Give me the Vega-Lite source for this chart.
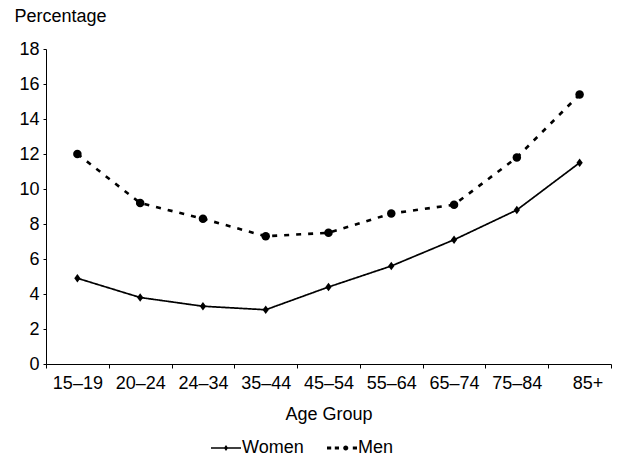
{
  "$schema": "https://vega.github.io/schema/vega-lite/v6.json",
  "autosize": {"type": "none"},
  "padding": {"left": 46, "top": 49, "right": 6, "bottom": 97},
  "width": 565,
  "height": 315,
  "background": "white",
  "config": {
    "font": "Liberation Sans",
    "view": {"stroke": null},
    "axis": {"labelFont": "Liberation Sans", "titleFont": "Liberation Sans", "labelColor": "black", "titleColor": "black", "domainColor": "black", "tickColor": "black", "grid": false}
  },
  "data": {"values": [
    {"age": "15–19", "sex": "Women", "pct": 4.9},
    {"age": "20–24", "sex": "Women", "pct": 3.8},
    {"age": "24–34", "sex": "Women", "pct": 3.3},
    {"age": "35–44", "sex": "Women", "pct": 3.1},
    {"age": "45–54", "sex": "Women", "pct": 4.4},
    {"age": "55–64", "sex": "Women", "pct": 5.6},
    {"age": "65–74", "sex": "Women", "pct": 7.1},
    {"age": "75–84", "sex": "Women", "pct": 8.8},
    {"age": "85+", "sex": "Women", "pct": 11.5},
    {"age": "15–19", "sex": "Men", "pct": 12.0},
    {"age": "20–24", "sex": "Men", "pct": 9.2},
    {"age": "24–34", "sex": "Men", "pct": 8.3},
    {"age": "35–44", "sex": "Men", "pct": 7.3},
    {"age": "45–54", "sex": "Men", "pct": 7.5},
    {"age": "55–64", "sex": "Men", "pct": 8.6},
    {"age": "65–74", "sex": "Men", "pct": 9.1},
    {"age": "75–84", "sex": "Men", "pct": 11.8},
    {"age": "85+", "sex": "Men", "pct": 15.4}
  ]},
  "encoding": {
    "x": {
      "field": "age", "type": "ordinal", "sort": null,
      "scale": {"type": "band", "paddingInner": 0, "paddingOuter": 0},
      "axis": {"title": "Age Group", "labelAngle": 0, "tickBand": "extent", "tickSize": 4, "labelPadding": 6, "labelFontSize": 18, "titleFontSize": 18, "titleFontWeight": "normal", "titlePadding": 13,
        "labelOffset": {"expr": "datum.value === '85+' ? 8 : 0"}}
    },
    "y": {
      "field": "pct", "type": "quantitative",
      "scale": {"domain": [0, 18]},
      "axis": {"title": "Percentage", "values": [0, 2, 4, 6, 8, 10, 12, 14, 16, 18], "tickSize": 3, "labelPadding": 4, "labelFontSize": 18, "titleFontSize": 18, "titleFontWeight": "normal", "titleAngle": 0, "titleAlign": "left", "titleBaseline": "alphabetic", "titleX": -32, "titleY": -28}
    }
  },
  "layer": [
    {
      "mark": {"type": "line", "color": "black"},
      "encoding": {
        "detail": {"field": "sex"},
        "strokeDash": {"field": "sex", "type": "nominal", "scale": {"domain": ["Women", "Men"], "range": [[1, 0], [5, 7]]}, "legend": null},
        "strokeWidth": {"field": "sex", "type": "nominal", "scale": {"domain": ["Women", "Men"], "range": [1.7, 2.6]}, "legend": null}
      }
    },
    {
      "mark": {"type": "point", "filled": true, "color": "black", "opacity": 1},
      "encoding": {
        "shape": {"field": "sex", "type": "nominal", "scale": {"domain": ["Women", "Men"], "range": ["M0,-1L0.75,0L0,1L-0.75,0Z", "circle"]}, "legend": null},
        "size": {"field": "sex", "type": "nominal", "scale": {"domain": ["Women", "Men"], "range": [70, 72]}, "legend": null}
      }
    },
    {
      "mark": {"type": "point", "filled": true, "color": "black", "opacity": 0},
      "encoding": {
        "shape": {"field": "sex", "type": "nominal", "scale": {"domain": ["Women", "Men"], "range": [
          "M-1,-0.05L1,-0.05L1,0.05L-1,0.05ZM0,-0.2L0.14,0L0,0.2L-0.14,0Z",
          "M-1,-0.1L-0.72,-0.1L-0.72,0.1L-1,0.1ZM-0.48,-0.1L-0.2,-0.1L-0.2,0.1L-0.48,0.1ZM0.72,-0.1L1,-0.1L1,0.1L0.72,0.1ZM0.08,0A0.17,0.17,0,1,0,0.42,0A0.17,0.17,0,1,0,0.08,0Z"]},
          "legend": {"title": null, "orient": "none", "legendX": 165, "legendY": 384, "direction": "horizontal", "labelFontSize": 18, "labelFont": "Liberation Sans", "labelColor": "black", "symbolOpacity": 1, "symbolSize": 900, "symbolFillColor": "black", "symbolStrokeColor": "black", "symbolStrokeWidth": 0, "labelOffset": 1, "columnPadding": 23}}
      }
    }
  ],
  "resolve": {"scale": {"shape": "independent", "size": "independent"}}
}
